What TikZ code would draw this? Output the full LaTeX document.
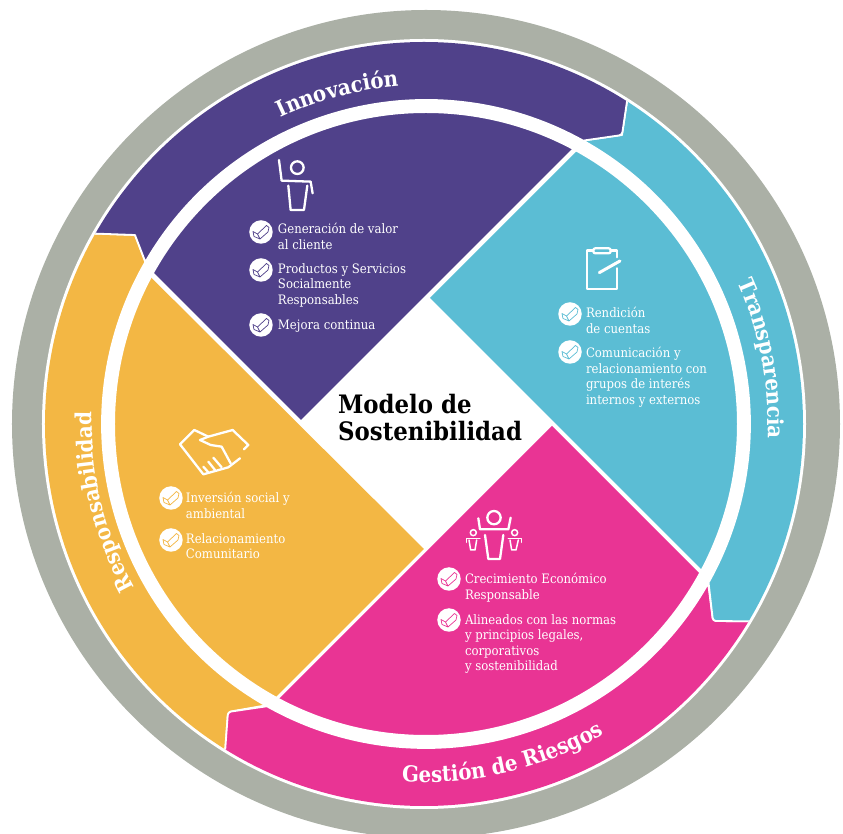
\documentclass[tikz,border=0pt]{standalone}
\usepackage{fontspec}
\setmainfont{DejaVu Serif Condensed}
\usetikzlibrary{decorations.text}
\definecolor{cgray}{RGB}{171,176,166}
\definecolor{cpurple}{RGB}{80,65,138}
\definecolor{ccyan}{RGB}{91,189,212}
\definecolor{cyellow}{RGB}{243,183,68}
\definecolor{cmagenta}{RGB}{233,52,148}
\tikzset{
  x=1pt,y=1pt,
  band/.style={draw=white,line width=1.8pt,line join=round},
  bullettext/.style={anchor=north west,inner sep=0pt,outer sep=0pt,text=white,align=left,
     font=\fontsize{13}{15.4}\selectfont},
  badgedisc/.style={circle,fill=white,minimum size=23.5pt,inner sep=0pt},
  iconline/.style={draw=white,line width=2.3pt,line join=round,line cap=round,fill=none},
  thinicon/.style={iconline,line width=1.5pt},
  px/.style={shift={(-426pt,424pt)},x=1pt,y=-1pt},
  zoomed/.style={x=0.3333pt,y=-0.3333pt},
  bandlabel/.style={decorate,decoration={text along path,text align=center,
     text color=white}},
}
\newcommand{\lblfont}{\fontsize{22}{22}\bfseries\selectfont}
% name, x, y, colour
\newcommand{\badge}[4]{%
  \node[badgedisc] (#1) at (#2-426,424-#3) {};
  \begin{scope}[shift={(#1.center)}]
    \draw[#4,line width=.7pt,line join=round]
      (-8,0.5) -- (-3.5,-2) -- (5.5,6.5) -- (8,4.5) -- (7,0) -- (-1,-7) -- (-7,-4.5) -- cycle
      (-3.5,-2) -- (-1,-7);
  \end{scope}}
\begin{document}
\begin{tikzpicture}
\useasboundingbox (-426,-410) rectangle (417,424);
\clip (-426,-410) rectangle (417,424);
% outer ring
\fill[cgray] (0,0) circle[radius=414];
\fill[white] (-2,0) ellipse[x radius=382,y radius=385];
% bands
\begin{scope}
\clip (-2,0) ellipse[x radius=379,y radius=382];
\draw[band,fill=cyellow] (150.1:390) arc[start angle=150.1,end angle=238.3,radius=390]
  -- (238.3:382) [rounded corners=3pt] -- (-198,-288) [sharp corners] -- (-158,-281) -- (240.6:324)
  arc[start angle=240.6,end angle=150,radius=324] -- (-291,189) -- (150.1:382) -- cycle;
\draw[band,fill=cmagenta] (-31.1:390) arc[start angle=-31.1,end angle=-121.7,radius=390]
  -- (-121.7:382) [rounded corners=3pt] -- (-198,-288) [sharp corners] -- (-119.4:324)
  arc[start angle=-119.4,end angle=-29.3,radius=324] -- (282,-158)
  [rounded corners=3pt] -- (287,-197) [sharp corners] -- (-31.1:382) -- cycle;
\draw[band,fill=ccyan] (58.2:390) arc[start angle=58.2,end angle=-31.1,radius=390]
  -- (-31.1:382) [rounded corners=3pt] -- (287,-197) [sharp corners] -- (-29.3:324)
  arc[start angle=-29.3,end angle=61,radius=324] -- (196,289) -- (58.2:382) -- cycle;
\draw[band,fill=cpurple] (150.1:390) arc[start angle=150.1,end angle=58.2,radius=390]
  -- (58.2:382) [rounded corners=3pt] -- (196,289) [sharp corners] -- (61:324)
  arc[start angle=61,end angle=150,radius=324] -- (-291,189) -- (150.1:382) -- cycle;
\end{scope}
% inner sectors
\begin{scope}
  \clip (0,0) circle[radius=318];
  \fill[cpurple] (-125,4) -- (275,404) -- (-525,404) -- cycle;
  \fill[cyellow] (-2,-125) -- (-402,273) -- (-402,-525) -- cycle;
  \fill[cmagenta] (126,-2) -- (-274,-402) -- (526,-402) -- cycle;
  \fill[ccyan] (4,126) -- (404,526) -- (404,-274) -- cycle;
\end{scope}
% white ring
\draw[white,line width=13pt] (0,0) circle[radius=317.5];
% band labels
\path[bandlabel,decoration={text={|\lblfont|Innovación}}]
  (135:339) arc[start angle=135,end angle=75,radius=339];
\path[bandlabel,decoration={text={|\lblfont|Transparencia}}]
  (45:342) arc[start angle=45,end angle=-23,radius=342];
\path[bandlabel,decoration={text={|\lblfont|Gestión de Riesgos}}]
  (-117:358) arc[start angle=-117,end angle=-37,radius=358];
\path[bandlabel,decoration={text={|\lblfont|Responsabilidad}}]
  (233.6:334) arc[start angle=233.6,end angle=153.6,radius=334];
% title
\node[anchor=north west,inner sep=0pt,align=left,font=\fontsize{25.4}{27}\bfseries\selectfont,text=black]
  (title) at (-88,30) {Modelo de\\Sostenibilidad};
% bullet texts
\begin{scope}[px]
\node[bullettext] (t1) at (278,223.5) {Generación de valor\\al cliente};
\node[bullettext] (t2) at (278,263.5) {Productos y Servicios\\Socialmente\\Responsables};
\node[bullettext] (t3) at (278,319.5) {Mejora continua};
\node[bullettext] (t4) at (586,307.5) {Rendición\\de cuentas};
\node[bullettext] (t5) at (586,347.5) {Comunicación y\\relacionamiento con\\grupos de interés\\internos y externos};
\node[bullettext] (t6) at (186,492.5) {Inversión social y\\ambiental};
\node[bullettext] (t7) at (186,533.5) {Relacionamiento\\Comunitario};
\node[bullettext] (t8) at (465,573.5) {Crecimiento Económico\\Responsable};
\node[bullettext] (t9) at (465,614.5) {Alineados con las normas\\y principios legales,\\corporativos\\y sostenibilidad};
\end{scope}
\badge{b1}{261}{232}{cpurple}
\badge{b2}{261}{270}{cpurple}
\badge{b3}{261}{325}{cpurple}
\badge{b4}{570}{314}{ccyan}
\badge{b5}{570}{352}{ccyan}
\badge{b6}{171}{498}{cyellow}
\badge{b7}{171}{540}{cyellow}
\badge{b8}{449}{579}{cmagenta}
\badge{b9}{449}{620}{cmagenta}
% person icon
\begin{scope}[shift={(-346pt,404pt)},zoomed]
  \draw[iconline] (652,443) circle[radius=19];
  \draw[iconline] (597,420) -- (605,482) -- (692,485) -- (698,520);
  \draw[iconline] (625,497) -- (632,570) -- (672,570) -- (682,497);
\end{scope}
% clipboard icon
\begin{scope}[shift={(114pt,344pt)},zoomed]
  \draw[iconline] (160,512) -- (140,512) -- (140,627) -- (232,627) -- (232,565);
  \draw[iconline] (212,512) -- (232,512) -- (232,532);
  \draw[iconline,rounded corners=2pt] (160,505) rectangle (212,520);
  \draw[iconline,line width=3pt] (178,578) -- (240,543);
\end{scope}
% handshake icon
\begin{scope}[shift={(-286pt,14pt)},zoomed]
  \draw[iconline] (205,80) -- (163,60) -- (120,103) -- (190,193) -- (265,172) -- (300,145);
  \draw[iconline] (312,118) -- (325,105) -- (278,60) -- (205,80) -- (180,90) -- (212,105) -- (245,110) -- (272,160);
  \draw[iconline] (190,170) -- (205,187) (205,155) -- (225,180) (220,143) -- (245,172);
\end{scope}
% group icon
\begin{scope}[shift={(4pt,-71pt)},zoomed]
  \draw[iconline] (192,68) circle[radius=20];
  \draw[iconline] (145,70) -- (150,103) -- (235,103) -- (242,68);
  \draw[iconline] (165,120) -- (175,192) -- (210,192) -- (220,120);
  \draw[thinicon] (130,113) circle[radius=9];
  \draw[thinicon] (110,142) -- (110,130) -- (150,130);
  \draw[thinicon] (117,135) -- (122,165) -- (135,165) -- (140,135);
  \draw[thinicon] (254,113) circle[radius=9];
  \draw[thinicon] (235,130) -- (275,130) -- (275,142);
  \draw[thinicon] (240,135) -- (245,165) -- (258,165) -- (265,135);
\end{scope}
\end{tikzpicture}
\end{document}
